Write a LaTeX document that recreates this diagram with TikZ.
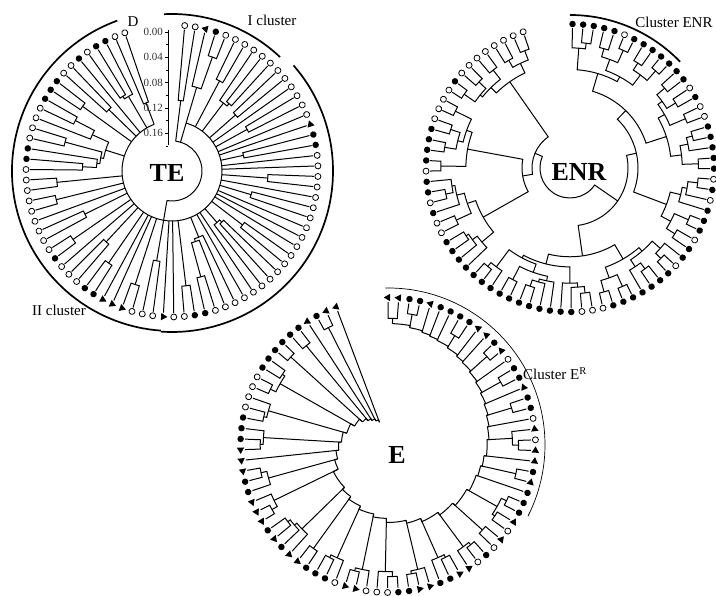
\documentclass[tikz,border=0pt]{standalone}
\usepackage{fontspec}
\setmainfont{Liberation Serif}
\usetikzlibrary{shapes.geometric}
\tikzset{
  br/.style   ={line width=1pt},
  clus/.style ={line width=1.7pt},
  thinarc/.style ={line width=0.7pt},
  mk-o/.style ={circle,draw,line width=0.8pt,fill=white,inner sep=0pt,minimum size=6pt},
  mk-f/.style ={circle,fill,inner sep=0pt,minimum size=6.5pt},
  mk-t/.style ={regular polygon,regular polygon sides=3,fill,inner sep=0pt,minimum size=8.5pt},
  lab/.style  ={font=\fontsize{15}{17}\selectfont,inner sep=0pt},
  big/.style  ={font=\fontsize{26}{28}\selectfont\bfseries,inner sep=0pt},
  tick/.style ={font=\fontsize{11}{12}\selectfont,text=gray!40!black,anchor=east,inner sep=1pt},
}
% random subtree over leaves #1..#2, result in \retth / \retr
\newcommand\subtree[2]{%
  \begingroup
  \pgfmathtruncatemacro\dlo{#1}%
  \pgfmathtruncatemacro\dhi{#2}%
  \pgfmathtruncatemacro\dn{\dhi-\dlo+1}%
  \ifnum\dn=1
    \pgfmathsetmacro\dth{\tstart-\dlo*\tstep}%
    \xdef\retth{\dth}\xdef\retr{\Rtip}%
  \else
    \pgfmathtruncatemacro\dsz{max(1,min(\dn-1,round(\dn*(0.25+0.5*rnd))))}%
    \pgfmathtruncatemacro\dmd{\dlo+\dsz-1}%
    \pgfmathtruncatemacro\dmdp{\dmd+1}%
    \edef\dnext{\noexpand\subtree{\dlo}{\dmd}}\dnext
    \let\dthl\retth \let\drl\retr
    \edef\dnext{\noexpand\subtree{\dmdp}{\dhi}}\dnext
    \let\dthr\retth \let\drr\retr
    \pgfmathsetmacro\drh{min(\Rtip-\Rjo-\Rja*ln(\dn)-\Rjv*rnd,min(\drl,\drr)-3)}%
    \draw[br] (\dthl:\drl) -- (\dthl:\drh) arc[start angle=\dthl,end angle=\dthr,radius=\drh] -- (\dthr:\drr);
    \pgfmathsetmacro\dth{(\dthl+\dthr)/2}%
    \xdef\retth{\dth}\xdef\retr{\drh}%
  \fi
  \endgroup}
% join two subtrees at radius #5
\newcommand\joinat[5]{%
  \pgfmathsetmacro\drh{min(#5,min(#2,#4)-3)}%
  \draw[br] (#1:#2) -- (#1:\drh) arc[start angle=#1,end angle=#3,radius=\drh] -- (#3:#4);
  \pgfmathsetmacro\dth{(#1+#3)/2}%
  \xdef\retth{\dth}\xdef\retr{\drh}}
% TE clade with stem down to radius #3
\newcommand\TEclade[3]{\subtree{#1}{#2}\draw[br] (\retth:\retr) -- (\retth:#3);}
% E clade hung on the spiral
\newcommand\Eclade[2]{%
  \subtree{#1}{#2}%
  \pgfmathsetmacro\dphi{\retth}%
  \pgfmathsetmacro\dtt{(90-\dphi)/340}%
  \pgfmathsetmacro\db{min(24+98*(1-\dtt)^0.9,\retr-4)}%
  \draw[br] (\dphi:\retr) -- (\dphi:\db);
  \ifx\Eprev\relax\else
    \draw[br] (\Eprev:\Eprevb) arc[start angle=\Eprev,end angle=\dphi,radius=\Eprevb] -- (\dphi:\db);
  \fi
  \xdef\Eprev{\dphi}\xdef\Eprevb{\db}}
\newcommand\leafmarks[1]{\foreach \m [count=\i from 0] in #1 {%
  \pgfmathsetmacro\dth{\tstart-\i*\tstep}\node[mk-\m,rotate=\dth] at (\dth:\Rm) {};}}
\def\TEmarks{o,o,t,f,o,o,o,o,o,o,o,o,o,o,o,o,t,f,f,o,o,o,o,o,o,o,o,o,o,o,o,o,o,o,o,o,o,o,o,f,f,o,o,%
t,o,o,o,t,t,t,f,f,o,o,o,f,o,o,o,o,o,o,o,o,o,f,f,o,o,o,o,f,f,f,o,o,f,o,f,f,o,o}
\def\ENRmarks{f,f,f,f,f,o,f,f,f,f,f,f,f,o,f,o,o,f,f,f,f,f,o,f,o,f,f,f,o,f,f,o,f,f,f,f,f,f,f,o,o,o,%
f,f,f,f,f,f,f,f,f,f,f,f,f,f,f,o,o,f,o,f,f,o,f,f,f,f,o,o,o,o,f,o,o,o,o,o,o,o,o}
\def\Emarks{t,t,f,f,t,f,f,f,f,t,t,f,t,o,f,f,t,f,f,o,t,o,t,t,f,t,f,f,f,t,o,t,o,f,o,t,t,f,f,t,t,f,f,o,o,o,t,t,o,f,f,f,%
t,t,f,t,f,t,t,t,f,f,t,t,t,f,f,f,o,o,o,o,f,f,f,f,f,f,t,f,t,t}
\begin{document}
\begin{tikzpicture}[x=1pt,y=1pt]
\useasboundingbox (0,0) rectangle (716,596);
\fill[white] (0,0) rectangle (716,596);

% ---- TE ----
\begin{scope}[shift={(172,425)}]
  \def\tstart{85}\def\tstep{4.15}\def\Rtip{142}\def\Rm{146}
  \def\Rjo{12}\def\Rja{10}\def\Rjv{55}
  \pgfmathsetseed{11}
  \TEclade{0}{1}{30}\xdef\TEd{\retth}
  \TEclade{2}{4}{50}\xdef\TEa{\retth}
  \foreach \a/\b in {5/6,7/9,10/11,12/12,13/14,15/15,16/16,17/18,19/19,20/20,21/22,23/23,24/25,
    26/26,27/27,28/28,29/30,31/33,34/34,35/35,36/39,40/41,42/42,43/43} {\TEclade{\a}{\b}{50}}
  \TEclade{44}{45}{30}\xdef\TEe{\retth}
  \foreach \a/\b in {46/47,48/48,49/49,50/51,52/53,54/54,55/56,57/58,59/59,60/61,62/63,64/71,
    72/73,74/75,76/76,77/79} {\TEclade{\a}{\b}{50}}
  \TEclade{80}{81}{50}\xdef\TEb{\retth}
  \draw[br] (\TEa:50) arc[start angle=\TEa,end angle=\TEb,radius=50];
  \draw[br] (\TEd:30) arc[start angle=\TEd,end angle=\TEe,radius=30];
  \draw[br] (\TEa:50) -- (\TEa:30);
  \leafmarks{\TEmarks}
  \draw[clus] (110:160) arc[start angle=110,end angle=266,radius=160];
  \draw[clus] (93:157) arc[start angle=93,end angle=46.5,radius=157];
  \draw[clus] (41:161) arc[start angle=41,end angle=-94,radius=161];
  \node[big] (labTE) at (-5,-1.5) {TE};
\end{scope}
% scale bar
\draw[line width=0.8pt] (168,566) -- (168,451);
\foreach \v [count=\k from 0] in {0.00,0.04,0.08,0.12,0.16} {
  \pgfmathsetmacro\yy{564-\k*25.3}
  \draw[line width=0.6pt] (168,\yy) -- (164.5,\yy);
  \draw[line width=0.6pt] (168,\yy-12.65) -- (166,\yy-12.65);
  \node[tick] (tk\k) at (164,\yy) {\v};
}
\node[lab] (labD) at (133,574) {D};
\node[lab] (labI) at (272,576) {I cluster};
\node[lab] (labII) at (59,286) {II cluster};

% ---- ENR ----
\begin{scope}[shift={(570,428)}]
  \def\tstart{89}\def\tstep{4.25}\def\Rtip{140}\def\Rm{144}
  \def\Rjo{0}\def\Rja{15}\def\Rjv{6}
  \pgfmathsetseed{3}
  \subtree{0}{10}\let\thA\retth\let\rA\retr
  \subtree{11}{21}\let\thB\retth\let\rB\retr
  \joinat{\thA}{\rA}{\thB}{\rB}{80}\let\thAB\retth\let\rAB\retr
  \subtree{22}{29}\let\thC\retth\let\rC\retr
  \joinat{\thAB}{\rAB}{\thC}{\rC}{68}\let\thAC\retth\let\rAC\retr
  \subtree{30}{52}\let\thD\retth\let\rD\retr
  \joinat{\thAC}{\rAC}{\thD}{\rD}{58}\let\thAD\retth\let\rAD\retr
  \subtree{53}{62}\let\thE\retth\let\rE\retr
  \subtree{63}{70}\let\thF\retth\let\rF\retr
  \joinat{\thE}{\rE}{\thF}{\rF}{48}\let\thEF\retth\let\rEF\retr
  \subtree{71}{80}\let\thG\retth\let\rG\retr
  \joinat{\thEF}{\rEF}{\thG}{\rG}{38}\let\thEG\retth\let\rEG\retr
  \joinat{\thAD}{\rAD}{\thEG}{\rEG}{30}
  \leafmarks{\ENRmarks}
  \draw[clus] (90:153) arc[start angle=90,end angle=44,radius=153];
  \node[big] (labENR) at (9,-4) {ENR};
\end{scope}
\node[lab] (labCENR) at (674,574) {Cluster ENR};

% ---- E ----
\begin{scope}[shift={(388,151)}]
  \def\tstart{90}\def\tstep{4.19}\def\Rtip{143}\def\Rm{147.5}
  \def\Rjo{5}\def\Rja{7}\def\Rjv{7}
  \pgfmathsetseed{5}
  \global\let\Eprev\relax
  \foreach \a/\b in {0/1,2/3,4/4,5/5,6/6,7/8,9/9,10/10,11/12,13/13,14/15,16/16,17/18,19/19,20/22,
    23/23,24/25,26/26,27/30,31/32,33/35,36/38,39/41,42/44,45/47,48/50,51/52,53/56,57/59,60/62,
    63/63,64/66,67/69,70/73,74/75,76/77,78/78,79/80,81/81} {\Eclade{\a}{\b}}
  \leafmarks{\Emarks}
  \draw[thinarc] (91:157) arc[start angle=91,end angle=-27,radius=157];
  \node[big] (labE) at (9,-10) {E};
\end{scope}
\node[lab] (labCE) at (555,222) {Cluster E\textsuperscript{R}};
\end{tikzpicture}
\end{document}
